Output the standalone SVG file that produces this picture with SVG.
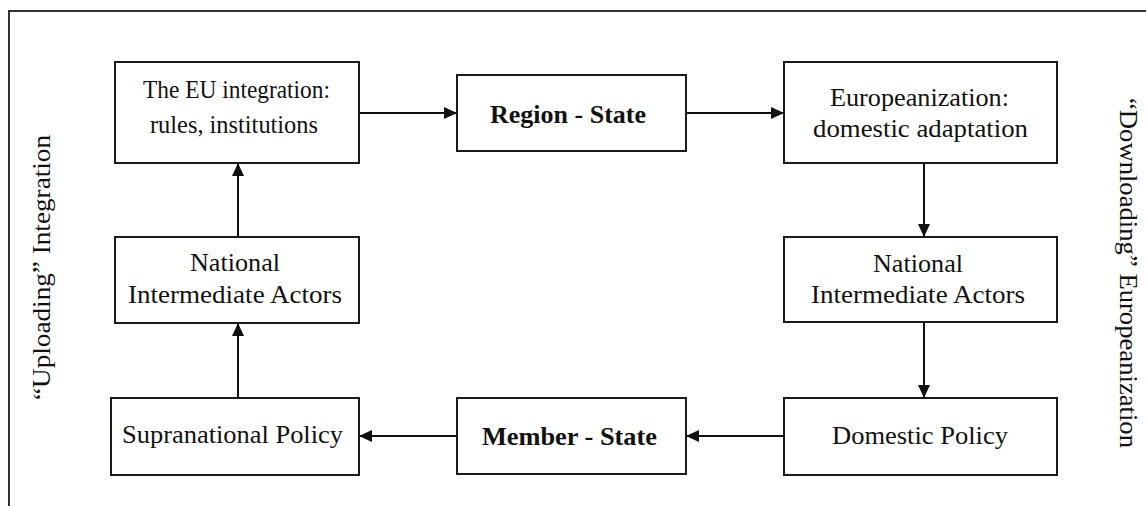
<svg xmlns="http://www.w3.org/2000/svg" width="1146" height="506" viewBox="0 0 1146 506">
<defs>
<marker id="ah" markerUnits="userSpaceOnUse" markerWidth="14" markerHeight="12" refX="13" refY="6" orient="auto">
<path d="M0,0 L13,6 L0,12 Z" fill="#111"/>
</marker>
<style>
.box{fill:#fff;stroke:#1a1a1a;stroke-width:2}
.lbl{font-family:'Liberation Serif','Times New Roman',serif;font-size:25px;fill:#111;text-anchor:middle}
.bold{font-weight:bold}
.c{stroke:#111;stroke-width:2;fill:none;marker-end:url(#ah)}
</style>
</defs>
<rect width="1146" height="506" fill="#fff"/>
<path d="M9,510 L9,11 L1150,11" fill="none" stroke="#333" stroke-width="2"/>
<g font-family="Liberation Serif, serif">
<text class="lbl" transform="translate(50,267.5) rotate(-90)" textLength="265" lengthAdjust="spacingAndGlyphs">“Uploading” Integration</text>
<text class="lbl" transform="translate(1120,273) rotate(90)" textLength="350" lengthAdjust="spacingAndGlyphs">“Downloading” Europeanization</text>
</g>
<g id="connectors">
<line class="c" x1="359" y1="113" x2="457" y2="113"/>
<line class="c" x1="686" y1="113" x2="784" y2="113"/>
<line class="c" x1="924" y1="163" x2="924" y2="237"/>
<line class="c" x1="924" y1="322" x2="924" y2="398"/>
<line class="c" x1="784" y1="436" x2="686" y2="436"/>
<line class="c" x1="457" y1="436" x2="359" y2="436"/>
<line class="c" x1="238" y1="398" x2="238" y2="323"/>
<line class="c" x1="238" y1="237" x2="238" y2="163"/>
</g>
<g id="eu-integration" font-family="Liberation Serif, serif">
<rect class="box" x="115" y="62" width="244" height="101"/>
<text class="lbl" x="236.5" y="98" textLength="187" lengthAdjust="spacingAndGlyphs">The EU integration:</text>
<text class="lbl" x="234" y="133" textLength="168" lengthAdjust="spacingAndGlyphs">rules, institutions</text>
</g>
<g id="region-state" font-family="Liberation Serif, serif">
<rect class="box" x="457" y="75" width="229" height="76"/>
<text class="lbl bold" x="568" y="123" textLength="156" lengthAdjust="spacingAndGlyphs">Region - State</text>
</g>
<g id="europeanization" font-family="Liberation Serif, serif">
<rect class="box" x="784" y="62" width="273" height="101"/>
<text class="lbl" x="919.5" y="106" textLength="179" lengthAdjust="spacingAndGlyphs">Europeanization:</text>
<text class="lbl" x="920.5" y="137" textLength="215" lengthAdjust="spacingAndGlyphs">domestic adaptation</text>
</g>
<g id="national-left" font-family="Liberation Serif, serif">
<rect class="box" x="115" y="237" width="244" height="86"/>
<text class="lbl" x="235" y="271" textLength="90" lengthAdjust="spacingAndGlyphs">National</text>
<text class="lbl" x="235" y="303" textLength="214" lengthAdjust="spacingAndGlyphs">Intermediate Actors</text>
</g>
<g id="national-right" font-family="Liberation Serif, serif">
<rect class="box" x="784" y="237" width="273" height="85"/>
<text class="lbl" x="918" y="272" textLength="90" lengthAdjust="spacingAndGlyphs">National</text>
<text class="lbl" x="918" y="303" textLength="214" lengthAdjust="spacingAndGlyphs">Intermediate Actors</text>
</g>
<g id="supranational-policy" font-family="Liberation Serif, serif">
<rect class="box" x="111" y="398" width="248" height="77"/>
<text class="lbl" x="232.5" y="443" textLength="221" lengthAdjust="spacingAndGlyphs">Supranational Policy</text>
</g>
<g id="member-state" font-family="Liberation Serif, serif">
<rect class="box" x="457" y="398" width="229" height="76"/>
<text class="lbl bold" x="569.5" y="445" textLength="175" lengthAdjust="spacingAndGlyphs">Member - State</text>
</g>
<g id="domestic-policy" font-family="Liberation Serif, serif">
<rect class="box" x="784" y="398" width="273" height="77"/>
<text class="lbl" x="920" y="444" textLength="176" lengthAdjust="spacingAndGlyphs">Domestic Policy</text>
</g>
</svg>
